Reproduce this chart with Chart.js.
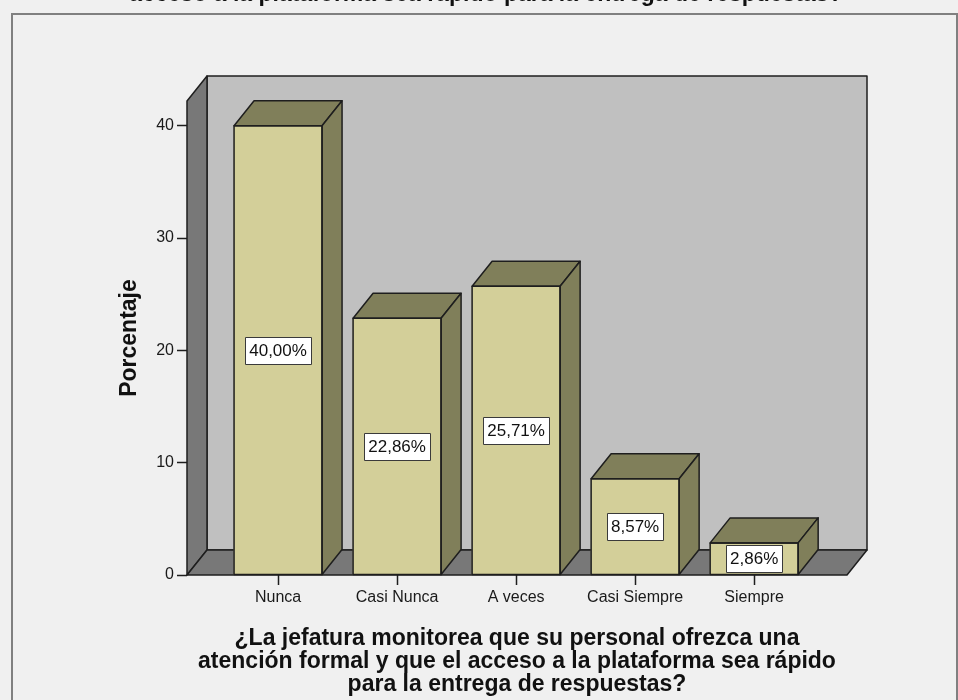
<!DOCTYPE html>
<html>
<head>
<meta charset="utf-8">
<script src="https://cdn.jsdelivr.net/npm/chart.js@4/dist/chart.umd.min.js"></script>
<style>
  html, body { margin: 0; padding: 0; background: #f0f0f0; }
  #wrap { width: 958px; height: 700px; }
</style>
</head>
<body>
<div id="wrap"><canvas id="chart" width="958" height="700"></canvas></div>
<script>
// Categories and percentages of the frequency chart
const categories = ['Nunca', 'Casi Nunca', 'A veces', 'Casi Siempre', 'Siempre'];
const percentages = [40.00, 22.86, 25.71, 8.57, 2.86];
const yTickValues = [0, 10, 20, 30, 40];
const xAxisTitle = [
  '¿La jefatura monitorea que su personal ofrezca una',
  'atención formal y que el acceso a la plataforma sea rápido',
  'para la entrega de respuestas?'
];
const yAxisTitle = 'Porcentaje';
const headingTail = 'acceso a la plataforma sea rápido para la entrega de respuestas?';

const FONT = '"Liberation Sans", Arial, sans-serif';
const DX = 20, DY = -25;           // depth of the 3D box and bars
const WALL_BACK = '#c0c0c0';
const WALL_SIDE = '#787878';
const BAR_FRONT = '#d3cf99';
const BAR_SHADE = '#807f5a';
const EDGE = '#1e1e1e';

function polygon(ctx, pts, fill) {
  ctx.beginPath();
  ctx.moveTo(pts[0][0], pts[0][1]);
  for (let i = 1; i < pts.length; i++) ctx.lineTo(pts[i][0], pts[i][1]);
  ctx.closePath();
  ctx.fillStyle = fill;
  ctx.fill();
  ctx.lineWidth = 1.5;
  ctx.strokeStyle = EDGE;
  ctx.lineJoin = 'round';
  ctx.stroke();
}

// Page background, frame and the visible tail of the heading
const framePlugin = {
  id: 'frame',
  beforeDraw(chart) {
    const ctx = chart.ctx;
    ctx.save();
    ctx.fillStyle = '#f0f0f0';
    ctx.fillRect(0, 0, chart.width, chart.height);
    ctx.strokeStyle = '#808080';
    ctx.lineWidth = 2;
    ctx.strokeRect(12, 14, chart.width - 13, chart.height);
    ctx.fillStyle = '#111';
    ctx.font = 'bold 23px ' + FONT;
    ctx.textAlign = 'center';
    ctx.textBaseline = 'alphabetic';
    ctx.fillText(headingTail, 486, 1);
    ctx.restore();
  }
};

// Back wall, side wall and floor of the 3D plot box
const boxPlugin = {
  id: 'box3d',
  beforeDatasetsDraw(chart) {
    const { left, right, top, bottom } = chart.chartArea;
    const ctx = chart.ctx;
    ctx.save();
    polygon(ctx, [[left + DX, top + DY], [right + DX, top + DY], [right + DX, bottom + DY], [left + DX, bottom + DY]], WALL_BACK);
    polygon(ctx, [[left, top], [left + DX, top + DY], [left + DX, bottom + DY], [left, bottom]], WALL_SIDE);
    polygon(ctx, [[left, bottom], [left + DX, bottom + DY], [right + DX, bottom + DY], [right, bottom]], WALL_SIDE);
    ctx.restore();
  }
};

// Top and side faces of each bar, then the value boxes
const barFacesPlugin = {
  id: 'barFaces',
  afterDatasetsDraw(chart) {
    const ctx = chart.ctx;
    const meta = chart.getDatasetMeta(0);
    ctx.save();
    meta.data.forEach((el) => {
      const x0 = el.x - el.width / 2, x1 = el.x + el.width / 2;
      const yt = el.y, yb = el.base;
      polygon(ctx, [[x0, yt], [x0 + DX, yt + DY], [x1 + DX, yt + DY], [x1, yt]], BAR_SHADE);
      polygon(ctx, [[x1, yt], [x1 + DX, yt + DY], [x1 + DX, yb + DY], [x1, yb]], BAR_SHADE);
      ctx.beginPath();
      ctx.rect(x0, yt, x1 - x0, yb - yt);
      ctx.lineWidth = 1.5;
      ctx.strokeStyle = EDGE;
      ctx.stroke();
    });
    ctx.font = '17px ' + FONT;
    ctx.textAlign = 'center';
    ctx.textBaseline = 'middle';
    meta.data.forEach((el, i) => {
      const text = percentages[i].toFixed(2).replace('.', ',') + '%';
      const w = ctx.measureText(text).width + 8;
      const h = 27;
      const cx = el.x, cy = (el.y + el.base) / 2;
      ctx.fillStyle = '#ffffff';
      ctx.fillRect(Math.round(cx - w / 2) + 0.5, Math.round(cy - h / 2) + 0.5, Math.round(w), h);
      ctx.strokeStyle = '#3a3a3a';
      ctx.lineWidth = 1;
      ctx.strokeRect(Math.round(cx - w / 2) + 0.5, Math.round(cy - h / 2) + 0.5, Math.round(w), h);
      ctx.fillStyle = '#111';
      ctx.fillText(text, cx, cy + 1);
    });
    ctx.restore();
  }
};

new Chart(document.getElementById('chart'), {
  type: 'bar',
  data: {
    datasets: [{
      data: percentages.map((v, i) => ({ x: i, y: v })),
      backgroundColor: BAR_FRONT,
      borderColor: EDGE,
      borderWidth: 0,
      barThickness: 88
    }]
  },
  options: {
    responsive: false,
    animation: false,
    layout: { padding: { top: 101, right: 111, bottom: 0, left: 0 } },
    plugins: {
      legend: { display: false },
      tooltip: { enabled: false },
      title: { display: false }
    },
    scales: {
      x: {
        type: 'linear',
        offset: false,
        min: -0.765,
        max: 4.78,
        afterFit(scale) { scale.height = 125; },
        afterBuildTicks(scale) { scale.ticks = categories.map((_, i) => ({ value: i })); },
        grid: { offset: false, drawOnChartArea: false, drawTicks: true, tickLength: 10, tickColor: EDGE, tickWidth: 1.5 },
        border: { display: false },
        ticks: {
          autoSkip: false,
          maxRotation: 0,
          padding: 3,
          color: '#1a1a1a',
          font: { family: FONT, size: 16 },
          callback: (v) => categories[v] ?? ''
        },
        title: {
          display: true,
          text: xAxisTitle,
          color: '#111',
          font: { family: FONT, size: 23, weight: 'bold', lineHeight: 1 },
          padding: { top: 0, bottom: 3.5 }
        }
      },
      y: {
        min: 0,
        max: 42.2,
        afterFit(scale) { scale.width = 187; },
        afterBuildTicks(scale) { scale.ticks = yTickValues.map((v) => ({ value: v })); },
        grid: { drawOnChartArea: false, drawTicks: true, tickLength: 10, tickColor: EDGE, tickWidth: 1.5 },
        border: { display: false },
        ticks: {
          padding: 3,
          color: '#1a1a1a',
          font: { family: FONT, size: 16 }
        },
        title: {
          display: true,
          text: yAxisTitle,
          color: '#111',
          font: { family: FONT, size: 23, weight: 'bold', lineHeight: 1 },
          padding: { top: 118.5, bottom: 0 }
        }
      }
    }
  },
  plugins: [framePlugin, boxPlugin, barFacesPlugin]
});
</script>
</body>
</html>
